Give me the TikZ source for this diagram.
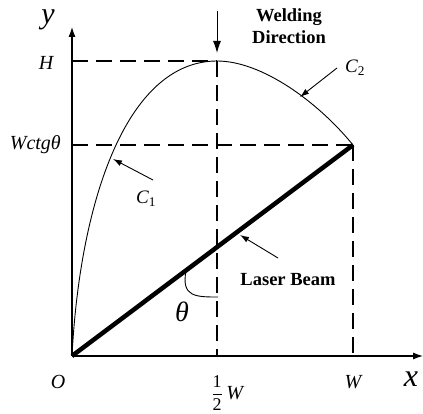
\documentclass[tikz,border=0pt]{standalone}
\usepackage{fontspec}
\setmainfont{Liberation Serif}
\usetikzlibrary{arrows.meta}
\begin{document}
\begin{tikzpicture}[x=1pt,y=-1pt,
  axisline/.style={line width=1.1pt,-{Latex[length=10pt,width=7pt]}},
  guide/.style={line width=1.4pt,dash pattern=on 16pt off 8pt},
  curveline/.style={line width=0.9pt},
  beam/.style={line width=4.5pt},
  pointer/.style={line width=0.9pt,-{Latex[length=9pt,width=6pt]}},
  mlab/.style={inner sep=0pt,font=\fontsize{20}{22}\selectfont\itshape},
  blab/.style={inner sep=0pt,font=\fontsize{18.5}{22}\selectfont\bfseries,align=center}]
\useasboundingbox (0,0) rectangle (423,414);
% key points
\coordinate (O) at (72,356);
\coordinate (Xend) at (423,356);
\coordinate (Yend) at (72,27);
\coordinate (Hy) at (72,61);
\coordinate (Top) at (217,61);
\coordinate (Wy) at (72,145);
\coordinate (P) at (353,145);
\coordinate (Mx) at (217,356);
\coordinate (Wx) at (353,356);
\coordinate (ArrTop) at (217,11);
\coordinate (ArrEnd) at (217,53);
% guides
\draw[guide] (Hy) -- (Top);
\draw[guide] (Wy) -- (P);
\draw[guide] (Top) -- (Mx);
\draw[guide] (P) -- (Wx);
% axes
\draw[axisline] (O) -- (Xend);
\draw[axisline] (O) -- (Yend);
% curves
\draw[curveline] (O) .. controls (80,200) and (127,61) .. (Top);
\draw[curveline] (Top) .. controls (262,61) and (318,102) .. (P);
% beam
\draw[beam] (O) -- (P);
% theta arc
\coordinate (ArcA) at (186,271);
\coordinate (ArcB) at (218,297);
\draw[curveline] (ArcA) .. controls (181,297) and (196,297) .. (ArcB);
% welding arrow
\draw[line width=1pt,-{Latex[length=12pt,width=8pt]}] (ArrTop) -- (ArrEnd);
% labels
\node[blab] (weld) at (289,26) {Welding\\Direction};
\node[blab] (laser) at (288,280) {Laser Beam};
\node[mlab,font=\fontsize{30}{30}\selectfont\itshape] (ylab) at (48,20) {y};
\node[mlab,font=\fontsize{32}{32}\selectfont\itshape] (xlab) at (411,379) {x};
\node[mlab] (Hlab) at (46,63) {H};
\node[mlab,anchor=east] (Wctg) at (61,145) {Wctgθ};
\node[mlab] (Olab) at (58,382) {O};
\node[mlab] (Wlab) at (353,382) {W};
\node[inner sep=0pt,font=\fontsize{18}{20}\selectfont] (half) at (217,393) {$\displaystyle\frac{\mbox{1}}{\mbox{2}}$};
\node[mlab,anchor=west] (halfW) at (half.east) {\,W};
\node[mlab,font=\fontsize{28}{28}\selectfont\itshape] (theta) at (182,312) {θ};
\node[mlab,font=\fontsize{19}{21}\selectfont\itshape] (C1) at (146,199) {C\textsubscript{\upshape 1}};
\node[mlab,font=\fontsize{19}{21}\selectfont\itshape] (C2) at (355,68) {C\textsubscript{\upshape 2}};
% pointers
\coordinate (C1tip) at (113,159);
\coordinate (C2tip) at (300,97);
\coordinate (Ltip) at (240,235);
\draw[pointer] (153,180) -- (C1tip);
\draw[pointer] (337,68) -- (C2tip);
\draw[pointer] (278,258) -- (Ltip);
\end{tikzpicture}
\end{document}
